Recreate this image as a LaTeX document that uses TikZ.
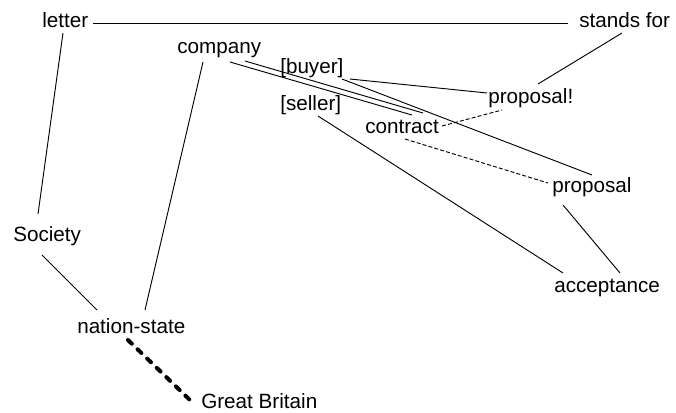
\documentclass[tikz,border=0pt]{standalone}
\usepackage{fontspec}
\setmainfont{Liberation Sans}
\begin{document}
\begin{tikzpicture}[x=0.75pt,y=-0.75pt,
  lbl/.style={inner sep=0pt, anchor=base west, font=\fontsize{15.5pt}{18pt}\selectfont},
  edge/.style={line width=0.7pt},
  thindash/.style={line width=0.7pt, dash pattern=on 3pt off 1.6pt},
  thickdash/.style={line width=3pt, line cap=round, dash pattern=on 4pt off 6pt}]
\useasboundingbox (0,0) rectangle (676,412);
\node[lbl] (letter) at (42,27) {letter};
\node[lbl] (stands) at (579,27) {stands for};
\node[lbl] (company) at (177,53) {company};
\node[lbl] (buyer) at (280,73) {[buyer]};
\node[lbl] (seller) at (280,110) {[seller]};
\node[lbl] (contract) at (365,133) {contract};
\node[lbl] (propx) at (488,103) {proposal!};
\node[lbl] (prop) at (552,192) {proposal};
\node[lbl] (society) at (13,241) {Society};
\node[lbl] (accept) at (554,292) {acceptance};
\node[lbl] (nation) at (77,333) {nation-state};
\node[lbl] (gb) at (201,408) {Great Britain};

\draw[edge] ([shift={(51,-4)}]letter.base west) -- ([shift={(-11,-4)}]stands.base west);
\draw[edge] ([shift={(21,6)}]letter.base west) -- ([shift={(25,-27)}]society.base west);
\draw[edge] ([shift={(29,14)}]society.base west) -- ([shift={(20,-23)}]nation.base west);
\draw[edge] ([shift={(26,9)}]company.base west) -- ([shift={(68,-23)}]nation.base west);
\draw[thickdash] ([shift={(51,7)}]nation.base west) -- ([shift={(-9,-6)}]gb.base west);
\draw[edge] ([shift={(43,6)}]stands.base west) -- ([shift={(50,-19)}]propx.base west);
\draw[edge] ([shift={(53,9)}]company.base west) -- ([shift={(47,-18)}]contract.base west);
\draw[edge] ([shift={(68,8)}]company.base west) -- ([shift={(58,-20)}]contract.base west);
\draw[edge] ([shift={(70,6)}]buyer.base west) -- ([shift={(-1,-10)}]propx.base west);
\draw[edge] ([shift={(62,6)}]buyer.base west) -- ([shift={(40,-17)}]prop.base west);
\draw[edge] ([shift={(38,6)}]seller.base west) -- ([shift={(9,-19)}]accept.base west);
\draw[edge] ([shift={(11,13)}]prop.base west) -- ([shift={(66,-19)}]accept.base west);
\draw[thindash] ([shift={(77,-7)}]contract.base west) -- ([shift={(14,7)}]propx.base west);
\draw[thindash] ([shift={(40,6)}]contract.base west) -- ([shift={(-4,-9)}]prop.base west);
\end{tikzpicture}
\end{document}
